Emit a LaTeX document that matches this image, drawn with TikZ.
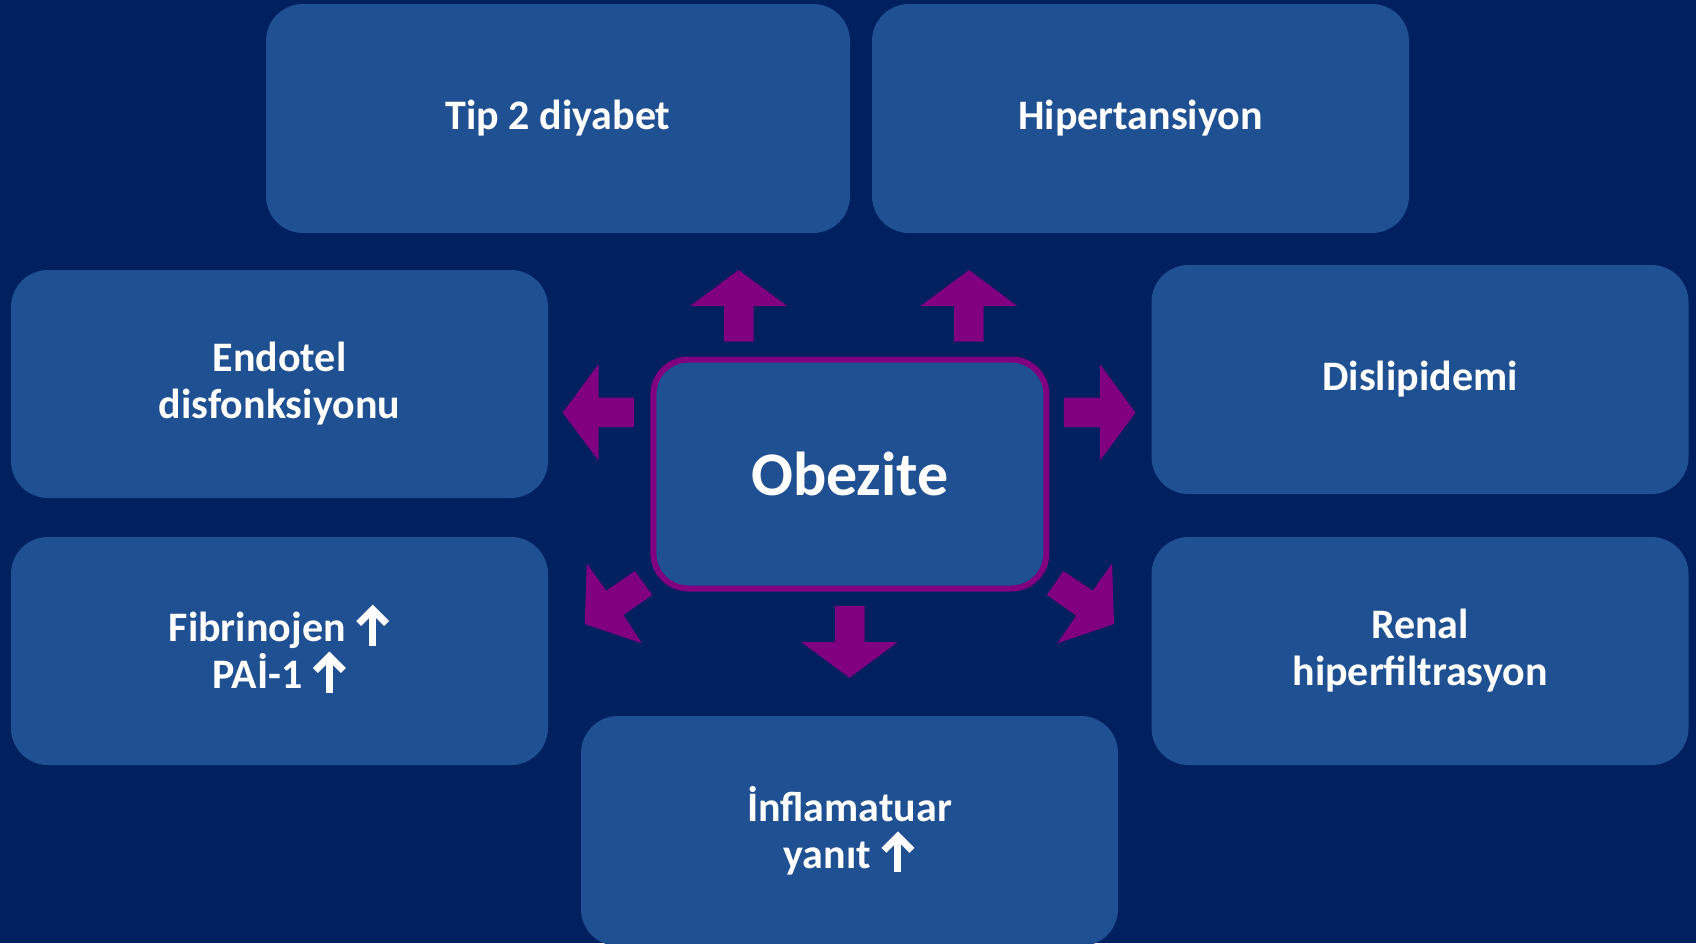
\documentclass[tikz,border=0pt]{standalone}
\usepackage{fontspec}
\setmainfont{Carlito}
\definecolor{navy}{HTML}{002060}
\definecolor{tile}{HTML}{1F5091}
\definecolor{plum}{HTML}{800080}
% bold upward arrow used inside the labels
\newcommand{\upmark}{\tikz[x=1pt, y=1pt, baseline=0pt, sharp corners]{%
  \draw[white, line width=7pt, line cap=butt] (0,-4) -- (0,30);%
  \draw[white, line width=7pt, line cap=butt, line join=miter] (-14,18) -- (0,32) -- (14,18);}}
\tikzset{
  tilebox/.style={rectangle, rounded corners=37pt, fill=tile, inner sep=0pt,
    minimum width=537pt, minimum height=229pt, text=white, align=center,
    font=\bfseries\fontsize{42pt}{47pt}\selectfont},
  hubbox/.style={tilebox, draw=plum, line width=6pt, rounded corners=35pt,
    minimum width=393pt, minimum height=229pt,
    font=\bfseries\fontsize{62pt}{68pt}\selectfont},
  blockarrow/.style={fill=plum, draw=none}
}
\begin{document}
\begin{tikzpicture}[x=1pt, y=-1pt]
  \fill[navy] (0,0) rectangle (1696,943);
  \useasboundingbox (0,0) rectangle (1696,943);

  % outer ring of conditions
  \node[tilebox, minimum width=584pt] (t2d) at (558,118.5) {Tip 2 diyabet};
  \node[tilebox] (htn) at (1140.5,118.5) {Hipertansiyon};
  \node[tilebox, minimum height=228pt] (endo) at (279.5,384) {Endotel\\disfonksiyonu};
  \node[tilebox] (dlp) at (1420,379.5) {Dislipidemi};
  \node[tilebox, minimum height=228pt] (fib) at (279.5,651) {Fibrinojen\ \upmark\\PAİ-1\ \upmark};
  \node[tilebox, minimum height=228pt] (ren) at (1420,651) {Renal\\hiperfiltrasyon};
  \node[tilebox, minimum height=230pt] (inf) at (849.5,831) {İnflamatuar\\yanıt\ \upmark};

  % central node
  \node[hubbox] (obz) at (849.9,474) {Obezite};

  % block arrows radiating from the centre
  \fill[blockarrow] (724.1,341.7) -- (724.1,306) -- (690.1,306) -- (738.6,270)
    -- (787.2,306) -- (753.6,306) -- (753.6,341.7) -- cycle;
  \fill[blockarrow] (954.1,341.7) -- (954.1,306) -- (920.4,306) -- (969,270)
    -- (1017.2,306) -- (983.6,306) -- (983.6,341.7) -- cycle;
  \fill[blockarrow] (634.2,397.7) -- (598.6,397.7) -- (598.6,364) -- (562.6,412.7)
    -- (598.6,460.7) -- (598.6,427) -- (634.2,427) -- cycle;
  \fill[blockarrow] (1063.9,397.7) -- (1099.9,397.7) -- (1099.9,364) -- (1135.5,412.7)
    -- (1099.9,460.7) -- (1099.9,427) -- (1063.9,427) -- cycle;
  \fill[blockarrow] (835.1,606) -- (835.1,642) -- (801,642) -- (849.6,677.7)
    -- (897.8,642) -- (864.5,642) -- (864.5,606) -- cycle;
  \fill[blockarrow] (634.9,571) -- (606.3,590.7) -- (586.7,563.3) -- (584.8,624)
    -- (641.8,643.3) -- (623.5,615) -- (652.2,595) -- cycle;
  \fill[blockarrow] (1063.5,571) -- (1092.6,590.7) -- (1112.1,563.3) -- (1114,624)
    -- (1057.4,643.3) -- (1076.2,615.7) -- (1046.7,595) -- cycle;
\end{tikzpicture}
\end{document}
